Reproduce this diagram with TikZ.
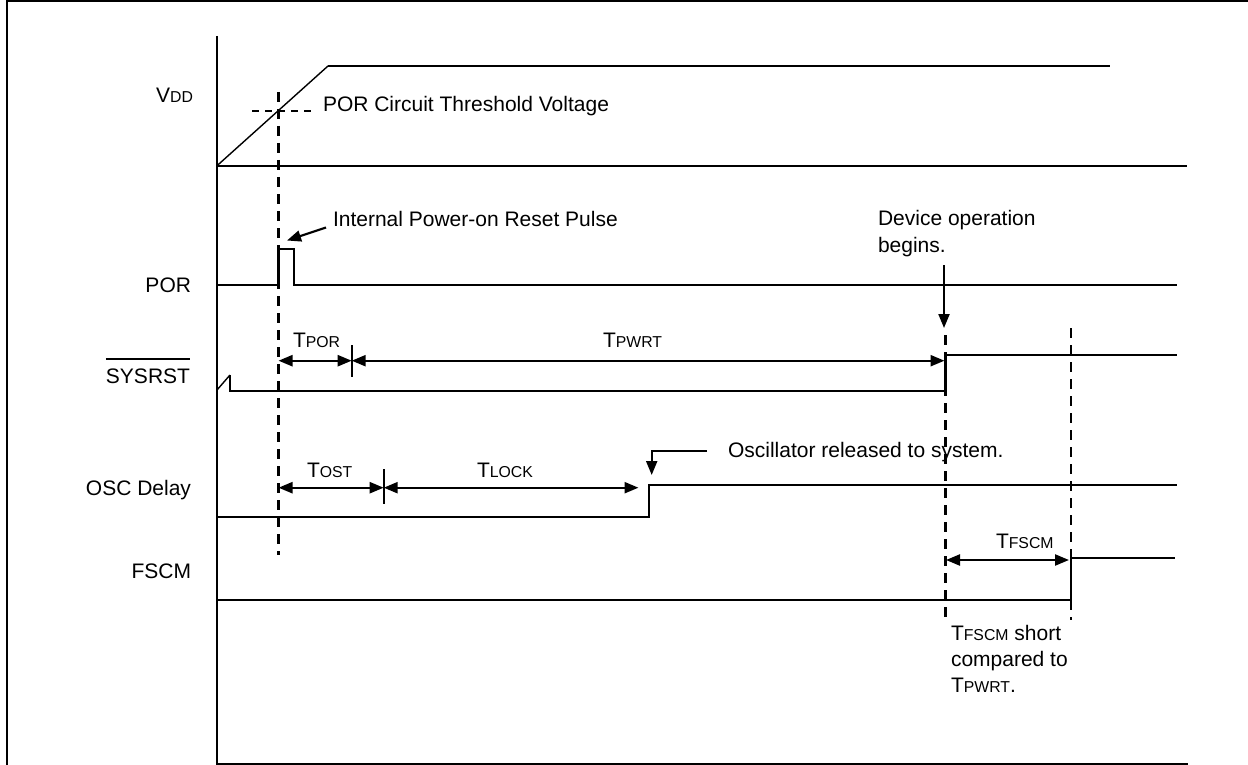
\documentclass[tikz,border=0pt]{standalone}
\usepackage{fontspec}
\setmainfont{Liberation Sans}
\usetikzlibrary{arrows.meta}
\newcommand{\smc}[1]{{\fontsize{15.8}{18}\selectfont #1}}
\begin{document}
\begin{tikzpicture}[x=1pt,y=-1pt,
  sig/.style={line width=2.3pt},
  thin sig/.style={line width=1.4pt},
  frameline/.style={line width=2.6pt},
  guide/.style={line width=2.3pt, dash pattern=on 10pt off 7pt},
  thr/.style={line width=1.9pt, dash pattern=on 7pt off 6pt},
  dimarrow/.style={line width=2.3pt, {Triangle[length=14pt,width=11pt]}-{Triangle[length=14pt,width=11pt]}},
  ptr/.style={line width=2.1pt, -{Triangle[length=14pt,width=11pt]}},
  tick/.style={line width=1.8pt},
  lbl/.style={font=\fontsize{21}{27}\selectfont, inner sep=0pt, outer sep=0pt}
]
\useasboundingbox (0,0) rectangle (1248,765);

% frame
\draw[frameline] (7,765) -- (7,1.2) -- (1248,1.2);

% axis
\coordinate (axtop) at (216.7,36);
\coordinate (axbot) at (216.7,764);
\coordinate (axend) at (1188,764);
\draw[sig] (axtop) -- (axbot) -- (axend);

% VDD
\node[lbl, anchor=base east] (vddlbl) at (193,103) {V\smc{DD}};
\coordinate (v0) at (216.7,166);
\coordinate (v1) at (328,66);
\coordinate (v2) at (1110,66);
\coordinate (v3) at (1187,166);
\draw[sig] (v0) -- (v3);
\draw[thin sig] (v0) -- (v1);
\draw[sig] (v1) -- (v2);
\coordinate (thrA) at (252,110.7);
\coordinate (thrB) at (316,110.7);
\draw[thr] (thrA) -- (thrB);
\node[lbl, anchor=base west] (thrlbl) at (323,112) {POR Circuit Threshold Voltage};

% guide line at POR start
\coordinate (gA1) at (278.5,92);
\coordinate (gA2) at (278.5,555);
\draw[guide] (gA1) -- (gA2);

% POR
\node[lbl, anchor=base east] (porlbl) at (191,292) {POR};
\draw[sig] (216.7,285) -- (278.5,285) -- (278.5,248.7) -- (294,248.7) -- (294,285) -- (1177,285);
\node[lbl, anchor=base west] (pulselbl) at (333,226) {Internal Power-on Reset Pulse};
\coordinate (pulseptrA) at (326,227.5);
\coordinate (pulseptrB) at (287,240.5);
\draw[ptr] (pulseptrA) -- (pulseptrB);

% SYSRST
\node[lbl, anchor=base east] (syslbl) at (190,383) {SYSRST};
\draw[line width=1.4pt] ([yshift=9.5pt]syslbl.north west) -- ([yshift=9.5pt]syslbl.north east);
\draw[thin sig] (217,390) -- (230,375);
\draw[sig] (230,375) -- (230,391) -- (945.5,391) -- (945.5,355) -- (1177,355);
\coordinate (tporA) at (278.5,360.7);
\coordinate (tporB) at (351.7,360.7);
\coordinate (tpwrtB) at (944.5,360.7);
\draw[dimarrow] (tporA) -- (tporB);
\draw[dimarrow] (tporB) -- (tpwrtB);
\draw[tick] (351.7,345) -- (351.7,377);
\node[lbl, anchor=base west] (tporlbl) at (293,347) {T\smc{POR}};
\node[lbl, anchor=base west] (tpwrtlbl) at (603,347) {T\smc{PWRT}};

% Device operation begins
\node[lbl, anchor=base west] (dev1) at (878,225) {Device operation};
\node[lbl, anchor=base west] (dev2) at (878,252) {begins.};
\coordinate (devA) at (944,265);
\coordinate (devB) at (944,328);
\draw[ptr] (devA) -- (devB);

% guides at right
\draw[guide] (945.5,335) -- (945.5,620);
\draw[guide] (1071,328) -- (1071,620);

% OSC Delay
\node[lbl, anchor=base east] (osclbl) at (191,495) {OSC Delay};
\draw[sig] (216.7,516.7) -- (649.3,516.7) -- (649.3,485) -- (1177,485);
\coordinate (tostA) at (278.5,487.7);
\coordinate (tostB) at (383.7,487.7);
\coordinate (tlockB) at (638.5,487.7);
\draw[dimarrow] (tostA) -- (tostB);
\draw[dimarrow] (tostB) -- (tlockB);
\draw[tick] (383.7,469) -- (383.7,504);
\node[lbl, anchor=base west] (tostlbl) at (307,477) {T\smc{OST}};
\node[lbl, anchor=base west] (tlocklbl) at (477,477) {T\smc{LOCK}};
\node[lbl, anchor=base west] (osctxt) at (728,457) {Oscillator released to system.};
\coordinate (oscA) at (707,450.7);
\coordinate (oscB) at (651.7,450.7);
\coordinate (oscC) at (651.7,475);
\draw[ptr] (oscA) -- (oscB) -- (oscC);

% FSCM
\node[lbl, anchor=base east] (fscmlbl) at (191,578) {FSCM};
\draw[sig] (216.7,600) -- (1071,600) -- (1071,557.7) -- (1175,557.7);
\coordinate (tfA) at (946,560);
\coordinate (tfB) at (1069,560);
\draw[dimarrow] (tfA) -- (tfB);
\node[lbl, anchor=base west] (tflbl) at (996,548) {T\smc{FSCM}};
\node[lbl, anchor=base west] (note1) at (951,640) {T\smc{FSCM} short};
\node[lbl, anchor=base west] (note2) at (951,666) {compared to};
\node[lbl, anchor=base west] (note3) at (951,692) {T\smc{PWRT}.};
\end{tikzpicture}
\end{document}
